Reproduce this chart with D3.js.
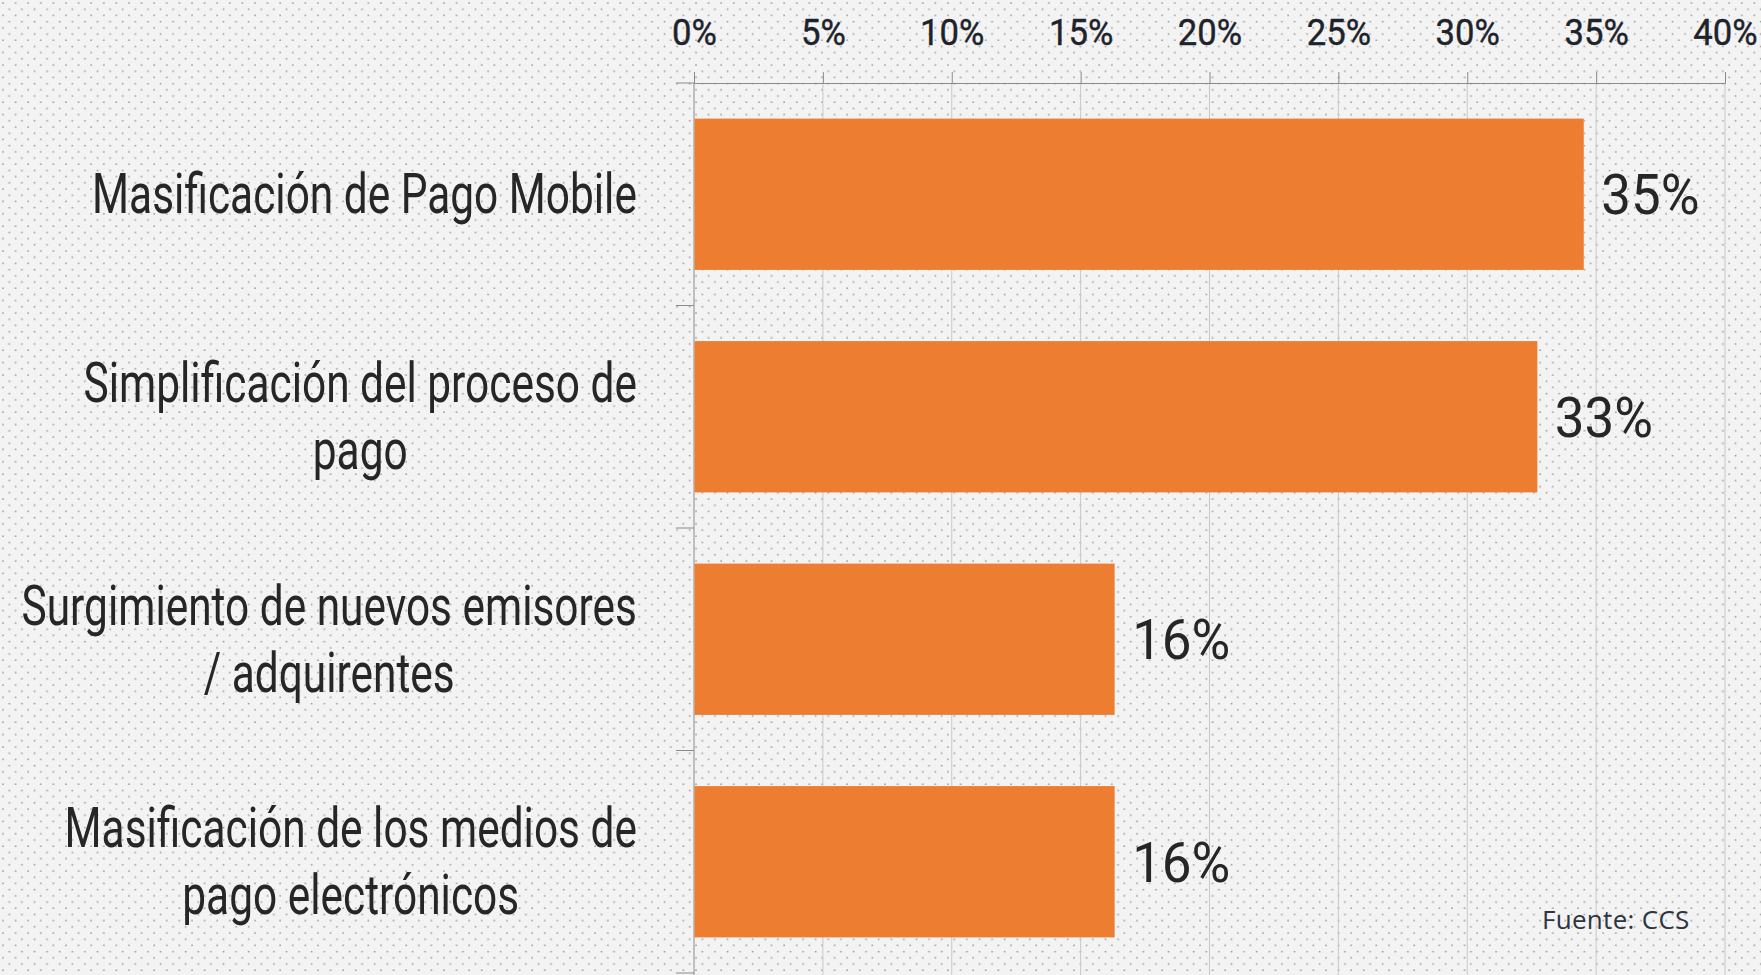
<!DOCTYPE html>
<html>
<head>
<meta charset="utf-8">
<script src="https://cdn.jsdelivr.net/npm/d3@7"></script>
<style>
  body { margin: 0; background: #f2f2f2; }
  svg { display: block; }
</style>
</head>
<body>
<svg id="chart" width="1761" height="975"></svg>
<script>
// data
var categories = [
  ["Masificación de Pago Mobile"],
  ["Simplificación del proceso de", "pago"],
  ["Surgimiento de nuevos emisores", "/ adquirentes"],
  ["Masificación de los medios de", "pago electrónicos"]
];
var values = [0.345, 0.327, 0.163, 0.163];
var valueLabels = ["35%", "33%", "16%", "16%"];
var tickValues = [0, 0.05, 0.10, 0.15, 0.20, 0.25, 0.30, 0.35, 0.40];
var source = "Fuente: CCS";

var W = 1761, H = 975;
var margin = {top: 83, left: 694, right: 36, bottom: 2};
var font = "Roboto, 'Liberation Sans', sans-serif";

var svg = d3.select('#chart');

// no condensed font here, so squeeze a normal one horizontally
var probe = svg.append('text').attr('font-family', font).attr('font-size', 56).text(categories[0][0]);
var sx = 545 / probe.node().getComputedTextLength();
probe.remove();
var sxNum = sx * 1.27; // digits are wider in the original face

// dotted background
var defs = svg.append('defs');
var pat = defs.append('pattern')
  .attr('id', 'dots')
  .attr('patternUnits', 'userSpaceOnUse')
  .attr('width', 12.6).attr('height', 12.4);
pat.append('rect').attr('width', 12.6).attr('height', 12.4).attr('fill', '#f3f3f3');
pat.append('circle').attr('cx', 3).attr('cy', 3).attr('r', 0.9).attr('fill', '#9c9c9c');
pat.append('circle').attr('cx', 9.3).attr('cy', 9.2).attr('r', 0.9).attr('fill', '#9c9c9c');
svg.append('rect').attr('width', W).attr('height', H).attr('fill', 'url(#dots)');

var x = d3.scaleLinear().domain([0, 0.4]).range([margin.left, W - margin.right]);
var y = d3.scaleBand()
  .domain(d3.range(categories.length))
  .range([margin.top, H - margin.bottom])
  .paddingInner(0.32)
  .paddingOuter(0.16);

// vertical gridlines
svg.append('g').selectAll('line')
  .data(tickValues.slice(1))
  .enter().append('line')
  .attr('x1', function(d) { return x(d); })
  .attr('x2', function(d) { return x(d); })
  .attr('y1', margin.top)
  .attr('y2', H)
  .attr('stroke', '#c8c8c8')
  .attr('stroke-width', 1);

// top axis
var xAxis = svg.append('g')
  .attr('transform', 'translate(0,' + margin.top + ')')
  .call(d3.axisTop(x).tickValues(tickValues).tickFormat(d3.format('.0%')).tickSize(11).tickPadding(27));
xAxis.select('.domain').attr('stroke', '#8a8a8a');
xAxis.selectAll('.tick line').attr('stroke', '#8a8a8a');
xAxis.selectAll('.tick text')
  .attr('font-family', font)
  .attr('font-size', 36)
  .attr('fill', '#1e232b')
  .attr('stroke', '#1e232b')
  .attr('stroke-width', 0.4)
  .attr('transform', 'scale(' + sxNum + ',1)');

// left axis line + ticks at band boundaries
var step = y.step();
var bounds = d3.range(categories.length + 1).map(function(i) { return margin.top + i * step; });
svg.append('line')
  .attr('x1', x(0)).attr('x2', x(0))
  .attr('y1', margin.top).attr('y2', H)
  .attr('stroke', '#8a8a8a');
svg.append('g').selectAll('line')
  .data(bounds)
  .enter().append('line')
  .attr('x1', x(0) - 18).attr('x2', x(0))
  .attr('y1', function(d) { return d; })
  .attr('y2', function(d) { return d; })
  .attr('stroke', '#8a8a8a');

// bars
svg.append('g').selectAll('rect')
  .data(values)
  .enter().append('rect')
  .attr('x', x(0) + 0.5)
  .attr('y', function(d, i) { return y(i); })
  .attr('width', function(d) { return x(d) - x(0); })
  .attr('height', y.bandwidth())
  .attr('fill', '#ed7d31');

// value labels
svg.append('g').selectAll('text')
  .data(values)
  .enter().append('text')
  .attr('transform', function(d, i) {
    return 'translate(' + (x(d) + 18) + ',' + (y(i) + y.bandwidth() / 2 + 20) + ') scale(' + sxNum + ',1)';
  })
  .attr('font-family', font)
  .attr('font-size', 55)
  .attr('fill', '#262626')
  .text(function(d, i) { return valueLabels[i]; });

// category labels, centered block, right edge at 637
var labelRight = 637, lineH = 67, fs = 56;
categories.forEach(function(lines, i) {
  var cy = y(i) + y.bandwidth() / 2;
  var g = svg.append('g');
  var texts = g.selectAll('text')
    .data(lines)
    .enter().append('text')
    .attr('font-family', font)
    .attr('font-size', fs)
    .attr('fill', '#262626')
    .attr('text-anchor', 'middle')
    .text(function(d) { return d; });
  var maxW = d3.max(texts.nodes(), function(n) { return n.getComputedTextLength(); }) * sx;
  texts.attr('transform', function(d, j) {
    var ty = cy - (lines.length - 1) * lineH / 2 + j * lineH + 19;
    return 'translate(' + (labelRight - maxW / 2) + ',' + ty + ') scale(' + sx + ',1)';
  });
});

// source note
svg.append('text')
  .attr('x', 1542).attr('y', 929)
  .attr('font-family', "'Open Sans', 'Noto Sans', sans-serif")
  .attr('font-size', 26)
  .attr('letter-spacing', 0.3)
  .attr('fill', '#2e3440')
  .text(source);
</script>
</body>
</html>
